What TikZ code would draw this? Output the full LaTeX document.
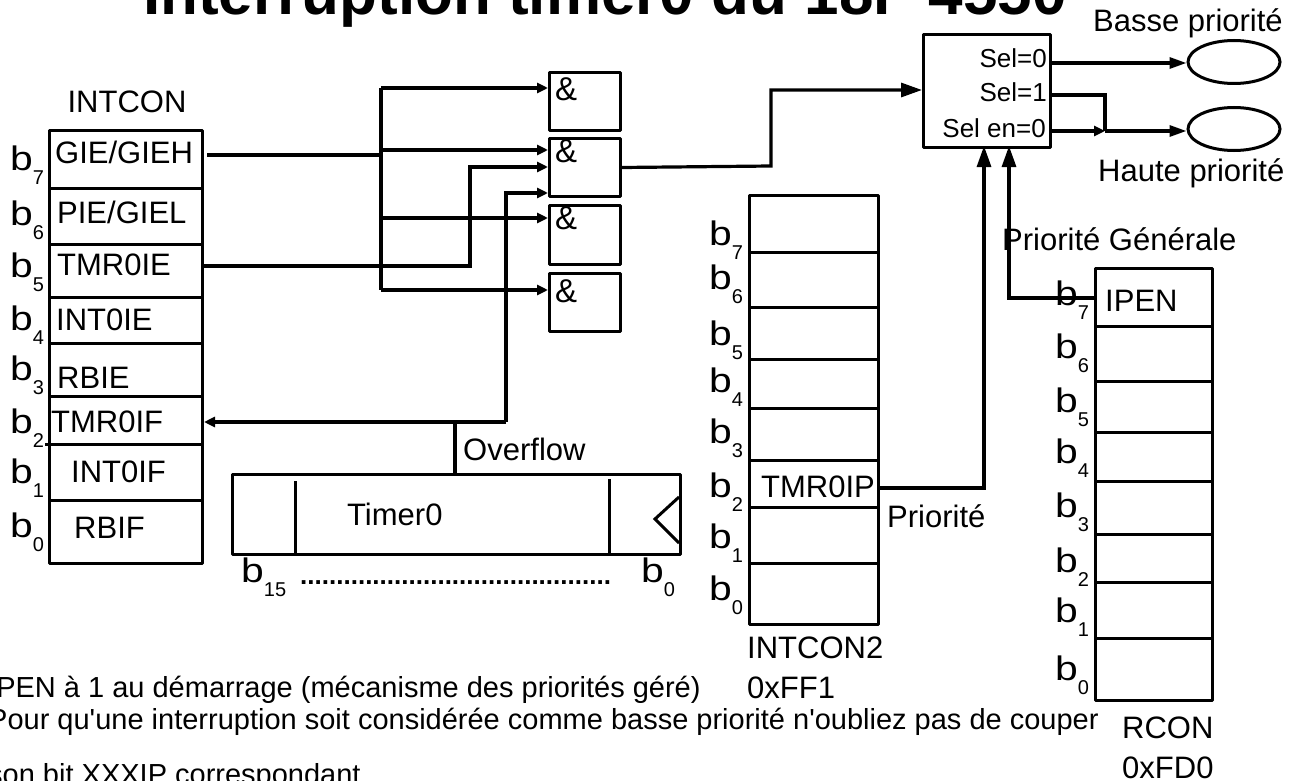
\documentclass[tikz,border=0pt]{standalone}
\usepackage{fontspec}
\setmainfont{Liberation Sans}
\usetikzlibrary{arrows.meta,shapes.geometric}
\newcommand{\bsub}[1]{\scalebox{1.2}[1]{b}\raisebox{-14pt}{\fontsize{20}{20}\selectfont #1}}
\begin{document}
\begin{tikzpicture}[x=1pt,y=-1pt,
  box/.style={draw,line width=3pt,inner sep=0pt,line join=round,anchor=north west},
  divider/.style={line width=3pt},
  wire/.style={line width=3.2pt},
  lbl/.style={inner sep=0pt,anchor=base west,font=\fontsize{31}{36}\selectfont},
  bl/.style={inner sep=0pt,anchor=base west,font=\fontsize{34}{38}\selectfont},
  sel/.style={inner sep=0pt,anchor=base east,font=\fontsize{26}{30}\selectfont},
  note/.style={inner sep=0pt,anchor=base west,font=\fontsize{29}{34}\selectfont},
  amp/.style={inner sep=0pt,anchor=base west,font=\fontsize{33}{38}\selectfont},
  tipS/.style={-{Triangle[length=11pt,width=10pt]}},
  tipM/.style={-{Triangle[length=17pt,width=11pt]}},
  tipL/.style={-{Triangle[length=21pt,width=14pt]}},
  oval/.style={draw,ellipse,line width=3pt,minimum width=92pt,minimum height=43pt,inner sep=0pt}
]
\useasboundingbox (0,0) rectangle (1300,781);

% title (cut at top)
\node[inner sep=0pt,anchor=base west,font=\fontsize{62}{70}\selectfont\bfseries] (title) at (143,15) {Interruption timer0 du 18F 4550};

% ---------------- INTCON ----------------
\node[lbl,anchor=base] (intconlbl) at (127,113) {INTCON};
\node[box,minimum width=153pt,minimum height=433pt] (intcon) at (48,129) {};
\draw[divider] (48,188) -- (204,188);
\foreach \y in {244,297,343,396} \draw[divider] (48,\y) -- (201,\y);
\draw[divider] (45,444) -- (201,444);
\draw[divider] (48,500) -- (201,500);
\node[lbl] (gie) at (55,163) {GIE/GIEH};
\node[lbl] (pie) at (57,223) {PIE/GIEL};
\node[lbl] (tmrie) at (57,275) {TMR0IE};
\node[lbl] (intie) at (56,330) {INT0IE};
\node[lbl] (rbie) at (57,388) {RBIE};
\node[lbl] (tmrif) at (51,432) {TMR0IF};
\node[lbl] (intif) at (71,482) {INT0IF};
\node[lbl] (rbif) at (74,538) {RBIF};
\node[bl] (ib7) at (10,170) {\bsub{7}};
\node[bl] (ib6) at (10,225) {\bsub{6}};
\node[bl] (ib5) at (10,277) {\bsub{5}};
\node[bl] (ib4) at (10,330) {\bsub{4}};
\node[bl] (ib3) at (10,380) {\bsub{3}};
\node[bl] (ib2) at (10,433) {\bsub{2}};
\node[bl] (ib1) at (10,483) {\bsub{1}};
\node[bl] (ib0) at (10,537) {\bsub{0}};

% ---------------- AND gates ----------------
\node[box,minimum width=71pt,minimum height=58pt] (g1) at (548,71) {};
\node[box,minimum width=71pt,minimum height=58pt] (g2) at (548,137) {};
\node[box,minimum width=71pt,minimum height=59pt] (g3) at (548,204) {};
\node[box,minimum width=71pt,minimum height=58pt] (g4) at (548,272) {};
\node[amp] (a1) at (555,101) {\&};
\node[amp] (a2) at (555,162) {\&};
\node[amp] (a3) at (555,229) {\&};
\node[amp] (a4) at (555,302) {\&};

% ---------------- Timer0 ----------------
\node[box,minimum width=448pt,minimum height=80pt] (timer) at (231,473) {};
\draw[divider] (295,481) -- (295,555);
\draw[divider] (609,479) -- (609,553);
\draw[divider,line join=miter] (679,497) -- (655,519) -- (679,543);
\node[lbl] (timerlbl) at (347,525) {Timer0};
\node[lbl] (ovflbl) at (463,460) {Overflow};
\node[bl] (tb15) at (241,582) {\bsub{15}};
\node[bl] (tb0) at (641,582) {\bsub{0}};
\node[inner sep=0pt,anchor=base west,font=\fontsize{26}{30}\selectfont\bfseries] (dots) at (300,584) {...........................................};

% ---------------- wires INTCON -> gates ----------------
\coordinate (busT) at (381,88);
\coordinate (bus2) at (381,150);
\coordinate (bus3) at (381,218);
\coordinate (busB) at (381,290);
\coordinate (gieout) at (207,155);
\draw[wire] (gieout) -- (gieout -| busT);
\draw[wire] (busT) -- (busB);
\draw[wire,tipS] (busT) -- (busT -| g1.west);
\draw[wire,tipS] (bus2) -- (bus2 -| g2.west);
\draw[wire,tipS] (bus3) -- (bus3 -| g3.west);
\draw[wire,tipS] (busB) -- (busB -| g4.west);
\coordinate (tieout) at (201,266);
\coordinate (g2b) at (548,167);
\draw[wire,tipS] (tieout) -| (470,167) -- (g2b);
\coordinate (ovj) at (455,422);
\coordinate (ovr) at (506,422);
\coordinate (g2c) at (548,193);
\draw[wire] (ovj |- timer.north) -- (ovj);
\draw[wire,tipS] (ovr) -- (ovr -| intcon.east);
\draw[wire,tipS] (ovr) |- (g2c);

% ---------------- Selector ----------------
\node[box,minimum width=127pt,minimum height=113pt] (selbox) at (922,33) {};
\node[sel] (sel0) at (1047,68) {Sel=0};
\node[sel] (sel1) at (1047,102) {Sel=1};
\node[sel] (selen) at (1046,138) {Sel en=0};
\node[oval] (basse) at (1234,62) {};
\node[oval] (haute) at (1234,129) {};
\node[lbl] (bassel) at (1093,32) {Basse priorité};
\node[lbl] (hautel) at (1098,181) {Haute priorité};
\coordinate (selin) at (922,90);
\draw[wire,tipL] (g2.east) -- (771,166) |- (selin);
\coordinate (s0) at (1049,63);
\coordinate (s1) at (1049,95);
\coordinate (se) at (1049,131);
\coordinate (jn) at (1105,131);
\draw[wire,tipM] (s0) -- (s0 -| basse.west);
\draw[wire] (s1) -| (jn);
\draw[wire,tipM] (jn) -- (jn -| haute.west);
\draw[wire,tipS] (se) -- (jn);

% ---------------- INTCON2 ----------------
\node[box,minimum width=129pt,minimum height=429pt] (intcontwo) at (748,194) {};
\foreach \y in {252,307,359,408,460,507,563} \draw[divider] (748,\y) -- (877,\y);
\node[bl] (jb7) at (709,245) {\bsub{7}};
\node[bl] (jb6) at (709,289) {\bsub{6}};
\node[bl] (jb5) at (709,345) {\bsub{5}};
\node[bl] (jb4) at (709,392) {\bsub{4}};
\node[bl] (jb3) at (709,443) {\bsub{3}};
\node[bl] (jb2) at (709,497) {\bsub{2}};
\node[bl] (jb1) at (709,548) {\bsub{1}};
\node[bl] (jb0) at (709,600) {\bsub{0}};
\node[lbl] (tmrip) at (761,497) {TMR0IP};
\node[lbl] (intcontwolbl) at (747,658) {INTCON2};
\node[lbl] (intcontwoadr) at (747,698) {0xFF1};
\node[lbl] (prio) at (887,527) {Priorité};
\coordinate (tipout) at (877,488);
\coordinate (selb1) at (984,146);
\draw[wire,tipL] (tipout) -| (selb1);

% ---------------- RCON ----------------
\node[box,minimum width=117pt,minimum height=432pt] (rcon) at (1094,267) {};
\foreach \y in {326,381,432,481,534,582,638} \draw[divider] (1097,\y) -- (1211,\y);
\node[lbl] (ipen) at (1105,311) {IPEN};
\node[lbl] (priog) at (1002,250) {Priorité Générale};
\node[lbl] (rconlbl) at (1122,738) {RCON};
\node[lbl] (rconadr) at (1122,778) {0xFD0};
\coordinate (ipenin) at (1094,298);
\coordinate (selb2) at (1009,146);
\draw[wire,tipL] (ipenin) -| (selb2);
\node[bl] (kb7) at (1055,305) {\bsub{7}};
\node[bl] (kb6) at (1055,358) {\bsub{6}};
\node[bl] (kb5) at (1055,412) {\bsub{5}};
\node[bl] (kb4) at (1055,463) {\bsub{4}};
\node[bl] (kb3) at (1055,517) {\bsub{3}};
\node[bl] (kb2) at (1055,572) {\bsub{2}};
\node[bl] (kb1) at (1055,622) {\bsub{1}};
\node[bl] (kb0) at (1055,680) {\bsub{0}};

% ---------------- notes ----------------
\node[note] (n1) at (-12,697) {IPEN à 1 au démarrage (mécanisme des priorités géré)};
\node[note] (n2) at (-12,729) {Pour qu\textquotesingle une interruption soit considérée comme basse priorité n\textquotesingle oubliez pas de couper};
\node[note] (n3) at (-12,784) {son bit XXXIP correspondant};
\end{tikzpicture}
\end{document}
